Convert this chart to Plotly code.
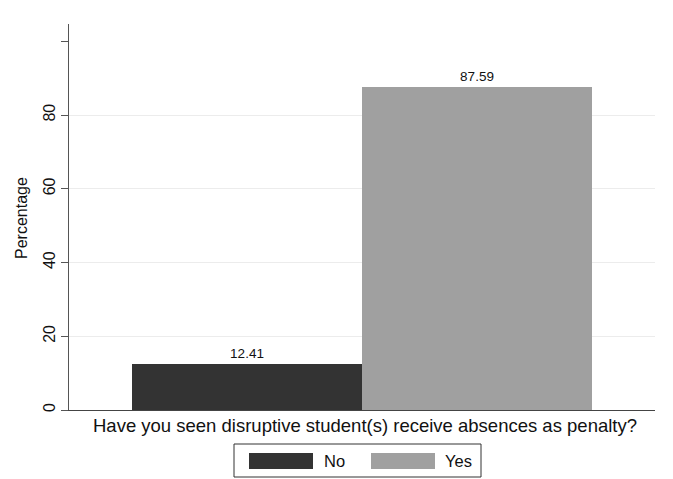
import plotly.graph_objects as go

categories = ["No", "Yes"]
percentages = [12.41, 87.59]
colors = ["#333333", "#a0a0a0"]
y_tickvals = [0, 20, 40, 60, 80]
y_ticktext = ["0", "20", "40", "60", "80"]
x_title = "Have you seen disruptive student(s) receive absences as penalty?"
y_title = "Percentage"

FONT = "Liberation Sans, Arial, Helvetica, sans-serif"

fig = go.Figure()
fig.add_trace(go.Bar(
    x=categories, y=percentages,
    marker=dict(color=colors, line=dict(width=0)),
    texttemplate="%{y:.2f}", textposition="outside",
    textfont=dict(size=13.5, color="#111111", family=FONT),
    cliponaxis=False, showlegend=False, hoverinfo="x+y",
))

# Plot area in pixels: x 69..655, y 24..410
L, R, T, B = 69, 18, 24, 69
W, H = 673, 479
pw, ph = W - L - R, H - T - B

def px_x(p):
    return (p - L) / pw

def px_y(p):
    return (H - B - p) / ph

shapes = []
annotations = []
# legend box
shapes.append(dict(type="rect", xref="paper", yref="paper",
                   x0=px_x(234), x1=px_x(481), y0=px_y(444), y1=px_y(477),
                   line=dict(color="#333333", width=1), fillcolor="white"))
sw_left = [249, 371]
txt_left = [322, 443]
for i, cat in enumerate(categories):
    shapes.append(dict(type="rect", xref="paper", yref="paper",
                       x0=px_x(sw_left[i]), x1=px_x(sw_left[i] + 64),
                       y0=px_y(453), y1=px_y(469),
                       line=dict(width=0), fillcolor=colors[i]))
    annotations.append(dict(text=cat, xref="paper", yref="paper",
                            x=px_x(txt_left[i]), y=px_y(461), xanchor="left",
                            yanchor="middle", showarrow=False,
                            font=dict(size=16.5, color="#111111", family=FONT)))

annotations.append(dict(text=x_title, xref="paper", yref="paper",
                        x=px_x(364.5), y=px_y(426), xanchor="center", yanchor="middle",
                        showarrow=False,
                        font=dict(size=18.5, color="#111111", family=FONT)))
annotations.append(dict(text=y_title, xref="paper", yref="paper",
                        x=px_x(21), y=px_y(218), xanchor="center", yanchor="middle",
                        textangle=-90, showarrow=False,
                        font=dict(size=16, color="#111111", family=FONT)))

fig.update_layout(
    width=W, height=H,
    margin=dict(l=L, r=R, t=T, b=B, pad=0),
    paper_bgcolor="white", plot_bgcolor="white",
    bargap=0,
    font=dict(family=FONT, color="#111111"),
    shapes=shapes, annotations=annotations,
    xaxis=dict(range=[-0.774, 1.774], showticklabels=False, ticks="",
               showgrid=False, zeroline=False, showline=True,
               linecolor="#444444", linewidth=1, fixedrange=True),
    yaxis=dict(range=[0, 104.7], tickvals=y_tickvals, ticktext=y_ticktext,
               tickangle=-90, ticks="outside", ticklen=7, tickcolor="#555555",
               tickfont=dict(size=16, color="#111111", family=FONT),
               showgrid=True, gridcolor="#ececec", gridwidth=1,
               zeroline=False, showline=True, linecolor="#555555",
               linewidth=1, fixedrange=True,
               minor=dict(tickvals=[100], ticks="outside", ticklen=7,
                          tickcolor="#555555", showgrid=False)),
)

fig.write_html("out.html", config={"displayModeBar": False},
               post_script="document.body.style.margin='0';document.body.style.overflow='hidden';")
